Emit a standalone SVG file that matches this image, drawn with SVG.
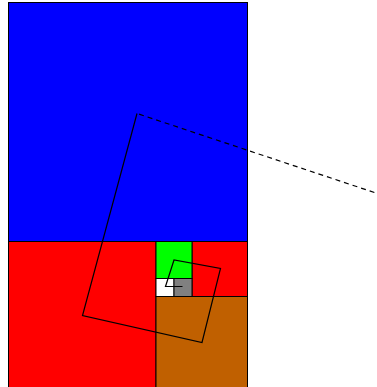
<svg xmlns="http://www.w3.org/2000/svg" width="377" height="387" viewBox="0 0 377 387">
<style>
.sq{stroke:#000;stroke-width:1}
.sp{fill:none;stroke:#000;stroke-width:1.2}
</style>
<rect width="377" height="387" fill="#fff"/>
<g id="squares">
<rect class="sq" x="8.5" y="2.5" width="239" height="239" fill="#0000ff"/>
<rect class="sq" x="8.5" y="241.5" width="147.5" height="150" fill="#ff0000"/>
<rect class="sq" x="156" y="296.5" width="91.5" height="95" fill="#c06000"/>
<rect class="sq" x="192" y="241.5" width="55.5" height="55" fill="#ff0000"/>
<rect class="sq" x="156" y="241.5" width="36" height="37" fill="#00ff00"/>
<rect class="sq" x="156" y="278.5" width="18" height="18" fill="#ffffff"/>
<rect class="sq" x="174" y="278.5" width="18" height="18" fill="#808080"/>
</g>
<g id="spiral">
<line class="sp" x1="400" y1="201" x2="137" y2="113.5" stroke-dasharray="5,4"/>
<polyline class="sp" points="137,113.5 82.5,315.5 202,342.5 220.5,268.5 174,260 165.5,286.5 182.5,286.5"/>
</g>
</svg>
